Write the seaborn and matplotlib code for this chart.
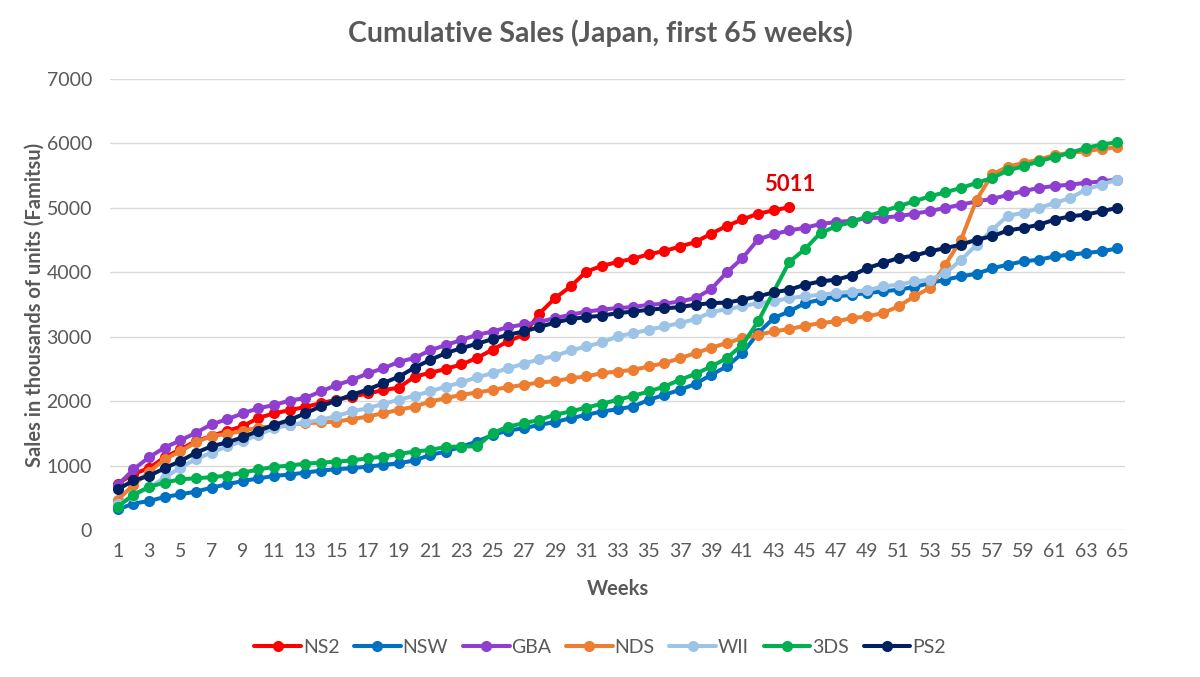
import pandas as pd
import matplotlib
matplotlib.use("Agg")
import matplotlib.pyplot as plt
from matplotlib.lines import Line2D
import seaborn as sns

# Cumulative sales in thousands of units, Japan (Famitsu)
consoles = ["NS2", "NSW", "GBA", "NDS", "WII", "3DS", "PS2"]
colors = ["#ff0000", "#0070c0", "#8e3fd0", "#ed7d31", "#9dc3e6", "#00b050", "#002060"]

weeks = list(range(1, 66))

ns2 = [720, 870, 960, 1130, 1250, 1380, 1460, 1540, 1610, 1740,
       1810, 1860, 1910, 1970, 2020, 2070, 2120, 2170, 2210, 2380,
       2440, 2500, 2570, 2670, 2800, 2930, 3030, 3360, 3600, 3780,
       4010, 4100, 4160, 4210, 4280, 4330, 4400, 4470, 4600, 4720,
       4820, 4910, 4960, 5011]

nsw = [320, 410, 450, 513, 554, 596, 658, 710, 761, 800,
       840, 860, 891, 922, 943, 960, 984, 1010, 1036, 1080,
       1165, 1217, 1295, 1373, 1476, 1544, 1580, 1632, 1676, 1735,
       1787, 1839, 1875, 1917, 2020, 2098, 2176, 2269, 2410, 2538,
       2745, 3056, 3289, 3393, 3522, 3574, 3626, 3650, 3678, 3704,
       3730, 3771, 3833, 3885, 3937, 3978, 4060, 4120, 4170, 4196,
       4248, 4274, 4299, 4325, 4370]

gba = [700, 940, 1130, 1280, 1390, 1510, 1640, 1720, 1810, 1890,
       1940, 2010, 2050, 2150, 2250, 2330, 2430, 2510, 2610, 2670,
       2790, 2870, 2950, 3030, 3080, 3150, 3190, 3230, 3290, 3340,
       3390, 3420, 3445, 3460, 3497, 3512, 3548, 3600, 3740, 4000,
       4220, 4510, 4590, 4650, 4690, 4750, 4780, 4800, 4840, 4850,
       4870, 4910, 4950, 5000, 5050, 5100, 5140, 5200, 5260, 5310,
       5340, 5360, 5390, 5410, 5440]

nds = [470, 700, 900, 1100, 1220, 1360, 1460, 1490, 1540, 1590,
       1610, 1632, 1658, 1670, 1684, 1720, 1761, 1813, 1865, 1917,
       1994, 2046, 2098, 2134, 2176, 2217, 2253, 2290, 2310, 2357,
       2383, 2435, 2460, 2486, 2538, 2590, 2668, 2745, 2830, 2901,
       2979, 3030, 3082, 3118, 3170, 3212, 3238, 3289, 3315, 3367,
       3471, 3626, 3755, 4118, 4507, 5128, 5520, 5640, 5698, 5750,
       5820, 5853, 5879, 5916, 5940]

wii = [400, 530, 660, 810, 970, 1100, 1200, 1300, 1380, 1480,
       1580, 1630, 1670, 1710, 1770, 1840, 1890, 1960, 2020, 2085,
       2150, 2227, 2290, 2372, 2435, 2512, 2580, 2652, 2700, 2787,
       2849, 2911, 3004, 3056, 3108, 3160, 3212, 3274, 3380, 3430,
       3471, 3522, 3548, 3600, 3626, 3652, 3678, 3700, 3720, 3781,
       3807, 3859, 3885, 3990, 4190, 4430, 4660, 4880, 4921, 4999,
       5076, 5154, 5284, 5361, 5439]

ds3 = [360, 550, 670, 735, 787, 803, 820, 845, 890, 940,
       980, 1000, 1030, 1045, 1062, 1080, 1114, 1140, 1181, 1217,
       1243, 1290, 1295, 1300, 1502, 1606, 1658, 1709, 1790, 1840,
       1900, 1960, 2020, 2082, 2150, 2227, 2331, 2424, 2538, 2668,
       2875, 3238, 3700, 4160, 4360, 4610, 4714, 4780, 4869, 4947,
       5025, 5102, 5180, 5242, 5310, 5387, 5465, 5580, 5646, 5724,
       5791, 5853, 5931, 5983, 6019]

ps2 = [630, 770, 840, 960, 1070, 1200, 1300, 1360, 1440, 1540,
       1630, 1710, 1810, 1920, 2010, 2100, 2180, 2280, 2380, 2520,
       2640, 2745, 2823, 2890, 2963, 3030, 3082, 3150, 3222, 3274,
       3305, 3326, 3367, 3390, 3419, 3440, 3460, 3497, 3522, 3530,
       3574, 3626, 3688, 3730, 3807, 3859, 3885, 3950, 4066, 4144,
       4222, 4258, 4325, 4377, 4429, 4507, 4560, 4650, 4688, 4740,
       4817, 4869, 4895, 4947, 4999]

series = [ns2, nsw, gba, nds, wii, ds3, ps2]

rows = []
for name, vals in zip(consoles, series):
    for w, v in zip(weeks, vals):
        rows.append((w, v, name))
df = pd.DataFrame(rows, columns=["week", "sales", "console"])

sns.set_theme(style="white")
plt.rcParams["font.family"] = ["Lato", "DejaVu Sans"]
grey = "#595959"

fig = plt.figure(figsize=(12, 6.77), dpi=100)
ax = fig.add_axes([0.0917, 0.2171, 0.8458, 0.6662])

sns.lineplot(data=df, x="week", y="sales", hue="console", hue_order=consoles,
             palette=colors, marker="o", markersize=8, markeredgewidth=0,
             linewidth=2.9, errorbar=None, legend=False, ax=ax)

ax.set_xlim(0.5, 65.5)
ax.set_ylim(0, 7000)
ax.set_xticks(weeks[::2])
ax.set_yticks(range(0, 7001, 1000))
ax.yaxis.grid(True, color="#d9d9d9", linewidth=1)
ax.xaxis.grid(False)
ax.set_axisbelow(True)
for s in ax.spines.values():
    s.set_visible(False)
ax.tick_params(axis="both", length=0, colors=grey, labelsize=14)
ax.tick_params(axis="y", pad=13)
ax.tick_params(axis="x", pad=9)

ax.set_xlabel("Weeks", color=grey, fontsize=14.5, fontweight="bold", labelpad=14)
ax.set_ylabel("Sales in thousands of units (Famitsu)", color=grey, fontsize=14.5,
              fontweight="bold", labelpad=1)
fig.suptitle("Cumulative Sales (Japan, first 65 weeks)", x=0.5, y=0.972,
             color=grey, fontsize=20.5, fontweight="bold")

ax.annotate(f"{ns2[-1]}", xy=(len(ns2), ns2[-1]), xytext=(0, 9),
            textcoords="offset points", ha="center", va="bottom",
            color="#e00000", fontsize=16, fontweight="bold")

handles = [Line2D([], [], color=c, lw=2.9, marker="o", markersize=8, markeredgewidth=0)
           for c in colors]
leg = fig.legend(handles, consoles, loc="center", bbox_to_anchor=(0.5, 0.044),
                 ncol=7, frameon=False, fontsize=14, handlelength=2.4,
                 handletextpad=0.1, columnspacing=0.75)
for t in leg.get_texts():
    t.set_color(grey)

fig.savefig("out.png", dpi=100)
